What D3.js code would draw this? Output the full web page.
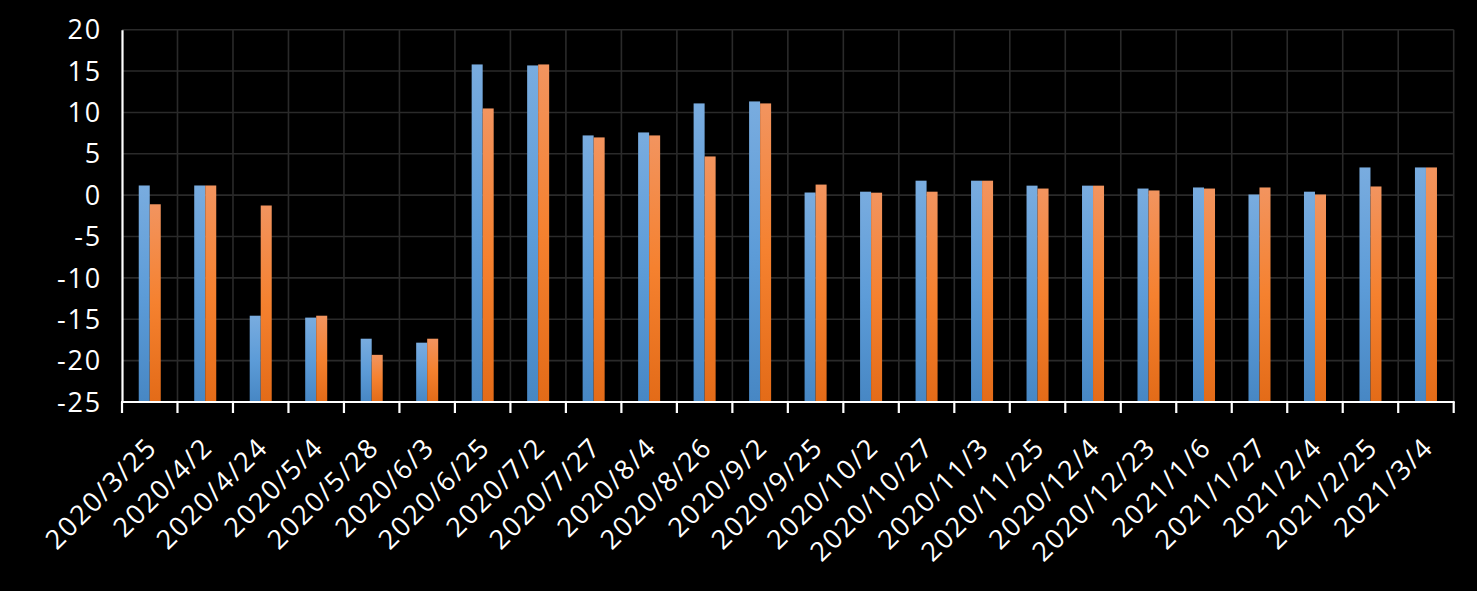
<!DOCTYPE html>
<html>
<head>
<meta charset="utf-8">
<script src="https://cdn.jsdelivr.net/npm/d3@7"></script>
<style>
  html, body { margin: 0; padding: 0; background: #000; }
  svg { display: block; }
  text { font-family: "Open Sans", "Noto Sans", sans-serif; fill: #fff; }
</style>
</head>
<body>
<svg id="chart" width="1477" height="591"></svg>
<script>
const categories = ["2020/3/25","2020/4/2","2020/4/24","2020/5/4","2020/5/28","2020/6/3","2020/6/25","2020/7/2","2020/7/27","2020/8/4","2020/8/26","2020/9/2","2020/9/25","2020/10/2","2020/10/27","2020/11/3","2020/11/25","2020/12/4","2020/12/23","2021/1/6","2021/1/27","2021/2/4","2021/2/25","2021/3/4"];
const seriesBlue   = [1.17, 1.17, -14.57, -14.8, -17.35, -17.83, 15.8, 15.68, 7.22, 7.58, 11.09, 11.33, 0.32, 0.42, 1.75, 1.75, 1.15, 1.15, 0.8, 0.93, 0.08, 0.42, 3.35, 3.35];
const seriesOrange = [-1.1, 1.17, -1.25, -14.57, -19.3, -17.35, 10.48, 15.8, 6.98, 7.22, 4.68, 11.09, 1.28, 0.3, 0.42, 1.75, 0.8, 1.15, 0.57, 0.8, 0.93, 0.08, 1.05, 3.35];
const yTicks = [-25, -20, -15, -10, -5, 0, 5, 10, 15, 20];
const seriesNames = ["blue", "orange"];

const svg = d3.select("#chart");
const mLeft = 122, mRight = 1453.7, mTop = 29.7, mBottom = 402;

const x0 = d3.scaleBand().domain(categories).range([mLeft, mRight]).paddingInner(0).paddingOuter(0);
const x1 = d3.scaleBand().domain(seriesNames).range([0, x0.bandwidth()]).paddingInner(0).paddingOuter(1.52);
const y = d3.scaleLinear().domain([-25, 20]).range([mBottom, mTop]);

// gradients
const defs = svg.append("defs");
const grads = {
  blue: [["0%", "#79acdf"], ["50%", "#5d9cd8"], ["100%", "#4787c4"]],
  orange: [["0%", "#f2945f"], ["50%", "#f5812f"], ["100%", "#e36b18"]]
};
Object.entries(grads).forEach(([k, stops]) => {
  const g = defs.append("linearGradient").attr("id", "g-" + k)
    .attr("x1", 0).attr("y1", 0).attr("x2", 0).attr("y2", 1);
  stops.forEach(s => g.append("stop").attr("offset", s[0]).attr("stop-color", s[1]));
});

// gridlines
const grid = svg.append("g");
grid.selectAll("line.h").data(yTicks.filter(t => t !== -25)).join("line")
  .attr("x1", mLeft).attr("x2", mRight)
  .attr("y1", d => y(d)).attr("y2", d => y(d))
  .attr("stroke", "#2a2a2a").attr("stroke-width", 1.6);
const bounds = categories.map(c => x0(c)).slice(1).concat([mRight]);
grid.selectAll("line.v").data(bounds).join("line")
  .attr("x1", d => d).attr("x2", d => d)
  .attr("y1", mTop).attr("y2", mBottom)
  .attr("stroke", "#2a2a2a").attr("stroke-width", 1.6);

// bars
const data = categories.map((c, i) => ({ c, vals: [seriesBlue[i], seriesOrange[i]] }));
const groups = svg.append("g").selectAll("g").data(data).join("g")
  .attr("transform", d => `translate(${x0(d.c)},0)`);
groups.selectAll("rect").data(d => d.vals.map((v, j) => ({ v, s: seriesNames[j] }))).join("rect")
  .attr("x", d => x1(d.s))
  .attr("width", x1.bandwidth())
  .attr("y", d => y(d.v))
  .attr("height", d => y(-25) - y(d.v))
  .attr("fill", d => `url(#g-${d.s})`);

// y axis
const yAxis = svg.append("g").attr("transform", `translate(${mLeft},0)`)
  .call(d3.axisLeft(y).tickValues(yTicks).tickSize(0).tickPadding(20).tickFormat(d => String(d)));
yAxis.select(".domain").attr("stroke", "#fff").attr("stroke-width", 2.2);
yAxis.selectAll("text").attr("font-size", 27).attr("fill", "#fff")
  .attr("font-family", "'Open Sans', sans-serif").attr("letter-spacing", 1.8)
  .attr("dy", "0.34em");

// x axis
const xAxisG = svg.append("g");
xAxisG.append("line").attr("x1", mLeft - 1).attr("x2", mRight + 1).attr("y1", mBottom).attr("y2", mBottom)
  .attr("stroke", "#fff").attr("stroke-width", 2.2);
xAxisG.selectAll("line.t").data([mLeft].concat(bounds)).join("line")
  .attr("x1", d => d).attr("x2", d => d)
  .attr("y1", mBottom).attr("y2", mBottom + 11)
  .attr("stroke", "#fff").attr("stroke-width", 2.2);
xAxisG.selectAll("text").data(categories).join("text")
  .attr("transform", d => `translate(${x0(d) + x0.bandwidth() / 2 + 9},${mBottom + 47}) rotate(-45)`)
  .attr("text-anchor", "end")
  .attr("font-size", 27)
  .attr("letter-spacing", 1.8)
  .text(d => d);
</script>
</body>
</html>
